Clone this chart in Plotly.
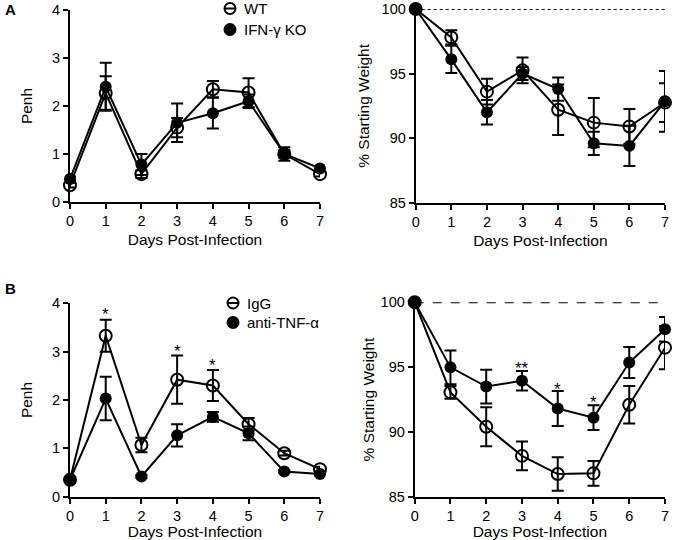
import plotly.graph_objects as go

W, H = 673, 540

days = [0, 1, 2, 3, 4, 5, 6, 7]
day_ticks = [0, 1, 2, 3, 4, 5, 6, 7]
penh_ticks = [0, 1, 2, 3, 4]
weight_ticks = [85, 90, 95, 100]

# Panel A: WT vs IFN-γ KO
wt_penh = [0.35, 2.27, 0.58, 1.55, 2.35, 2.28, 1.00, 0.58]
wt_penh_err = [0.05, 0.35, 0.08, 0.20, 0.17, 0.30, 0.08, 0.05]
ko_penh = [0.48, 2.40, 0.78, 1.65, 1.85, 2.10, 1.00, 0.70]
ko_penh_err = [0.05, 0.50, 0.22, 0.40, 0.32, 0.14, 0.14, 0.05]

wt_weight = [100, 97.8, 93.6, 95.25, 92.2, 91.2, 90.9, 92.75]
wt_weight_err = [0, 0.55, 1.0, 1.0, 1.95, 1.9, 1.35, 1.5]
ko_weight = [100, 96.1, 92.0, 95.0, 93.8, 89.6, 89.4, 92.85]
ko_weight_err = [0, 1.05, 0.95, 0.5, 0.9, 0.9, 1.55, 2.35]

# Panel B: IgG vs anti-TNF-α
igg_penh = [0.35, 3.33, 1.07, 2.42, 2.30, 1.50, 0.90, 0.57]
igg_penh_err = [0.05, 0.33, 0.15, 0.50, 0.32, 0.13, 0.05, 0.05]
tnf_penh = [0.35, 2.03, 0.42, 1.27, 1.65, 1.31, 0.52, 0.47]
tnf_penh_err = [0.05, 0.45, 0.03, 0.23, 0.10, 0.14, 0.03, 0.03]

igg_weight = [100, 93.05, 90.4, 88.15, 86.75, 86.8, 92.1, 96.5]
igg_weight_err = [0, 0.5, 1.5, 1.1, 1.3, 0.95, 1.45, 1.67]
tnf_weight = [100, 94.98, 93.5, 93.95, 91.8, 91.1, 95.35, 97.92]
tnf_weight_err = [0, 1.3, 1.3, 0.75, 1.35, 0.95, 1.2, 0.95]

baseline_weight = 100

# significance marks
b_penh_sig_days = [1, 3, 4]
b_penh_sig_y = [3.86, 3.09, 2.79]
b_penh_sig_text = ["*", "*", "*"]
b_weight_sig_days = [3, 4, 5]
b_weight_sig_y = [95.2, 93.6, 92.6]
b_weight_sig_text = ["**", "*", "*"]

legend_a = ["WT", "IFN-γ KO"]
legend_b = ["IgG", "anti-TNF-α"]

FONT = "Liberation Sans, Arial, sans-serif"
BLACK = "black"


def px_x(p):
    return p / W


def px_y(p):
    return 1 - p / H


fig = go.Figure()


def add_series(xref, yref, y, err, filled):
    fig.add_trace(go.Scatter(
        x=days, y=y, xaxis=xref, yaxis=yref,
        mode="lines+markers",
        line=dict(color=BLACK, width=2),
        marker=dict(
            symbol="circle" if filled else "circle-open",
            size=12,
            color=BLACK,
            line=dict(color=BLACK, width=2 if not filled else 0),
        ),
        error_y=dict(type="data", array=err, visible=True,
                     color=BLACK, thickness=2, width=6),
        cliponaxis=False,
        showlegend=False,
        hoverinfo="skip",
    ))


add_series("x", "y", wt_penh, wt_penh_err, False)
add_series("x", "y", ko_penh, ko_penh_err, True)
add_series("x2", "y2", wt_weight, wt_weight_err, False)
add_series("x2", "y2", ko_weight, ko_weight_err, True)
add_series("x3", "y3", igg_penh, igg_penh_err, False)
add_series("x3", "y3", tnf_penh, tnf_penh_err, True)
add_series("x4", "y4", igg_weight, igg_weight_err, False)
add_series("x4", "y4", tnf_weight, tnf_weight_err, True)

TICK_FS = 14.5
TITLE_FS = 15.5

axis_common = dict(
    showline=True, linecolor=BLACK, linewidth=2,
    ticks="outside", ticklen=5, tickwidth=2, tickcolor=BLACK,
    showgrid=False, zeroline=False, automargin=False,
    tickfont=dict(family=FONT, size=TICK_FS, color=BLACK),
    mirror=False,
)

panels = {
    "1": dict(xd=(70, 320), yd=(202, 10), yr=(0, 4), yt=penh_ticks, ytitle="Penh", xstand=6, ystand=16),
    "2": dict(xd=(415.7, 665), yd=(202.7, 9), yr=(85, 100), yt=weight_ticks, ytitle="% Starting Weight", xstand=6, ystand=8),
    "3": dict(xd=(70, 320), yd=(496.7, 303.3), yr=(0, 4), yt=penh_ticks, ytitle="Penh", xstand=1, ystand=16),
    "4": dict(xd=(414.7, 665), yd=(496.7, 302.3), yr=(85, 100), yt=weight_ticks, ytitle="% Starting Weight", xstand=1, ystand=2),
}

layout = dict(
    width=W, height=H,
    margin=dict(l=0, r=0, t=0, b=0),
    paper_bgcolor="white", plot_bgcolor="white",
    font=dict(family=FONT, color=BLACK),
    showlegend=False,
)

for k, p in panels.items():
    xname = "xaxis" if k == "1" else f"xaxis{k}"
    yname = "yaxis" if k == "1" else f"yaxis{k}"
    yid = "y" if k == "1" else f"y{k}"
    xid = "x" if k == "1" else f"x{k}"
    layout[xname] = dict(
        axis_common,
        domain=[px_x(p["xd"][0]), px_x(p["xd"][1])],
        range=[0, 7], tickvals=day_ticks, anchor=yid,
        title=dict(text="Days Post-Infection", standoff=p["xstand"],
                   font=dict(family=FONT, size=TITLE_FS, color=BLACK)),
    )
    layout[yname] = dict(
        axis_common,
        domain=[px_y(p["yd"][0]), px_y(p["yd"][1])],
        range=list(p["yr"]), tickvals=p["yt"], anchor=xid,
        title=dict(text=p["ytitle"], standoff=p["ystand"],
                   font=dict(family=FONT, size=TITLE_FS, color=BLACK)),
    )

fig.update_layout(**layout)

# baseline 100% lines
fig.add_shape(type="line", xref="x2", yref="y2", x0=days[0], x1=days[-1],
              y0=baseline_weight, y1=baseline_weight,
              line=dict(color=BLACK, width=2, dash="dot"), layer="below")
fig.add_shape(type="line", xref="x4", yref="y4", x0=days[0], x1=days[-1],
              y0=baseline_weight, y1=baseline_weight,
              line=dict(color=BLACK, width=2, dash="dash"), layer="below")

# significance asterisks
for d, yv, t in zip(b_penh_sig_days, b_penh_sig_y, b_penh_sig_text):
    fig.add_annotation(x=d, y=yv, xref="x3", yref="y3", text=t, showarrow=False,
                       yshift=-4, font=dict(family=FONT, size=17, color=BLACK))
for d, yv, t in zip(b_weight_sig_days, b_weight_sig_y, b_weight_sig_text):
    fig.add_annotation(x=d, y=yv, xref="x4", yref="y4", text=t, showarrow=False,
                       yshift=-4, font=dict(family=FONT, size=17, color=BLACK))

# panel letters
fig.add_annotation(x=px_x(3), y=px_y(9), xref="paper", yref="paper", text="<b>A</b>",
                   showarrow=False, xanchor="left", yanchor="middle",
                   font=dict(family=FONT, size=15, color=BLACK))
fig.add_annotation(x=px_x(3), y=px_y(288), xref="paper", yref="paper", text="<b>B</b>",
                   showarrow=False, xanchor="left", yanchor="middle",
                   font=dict(family=FONT, size=15, color=BLACK))


# manual legends
def legend_entry(cx, cy, label, filled):
    xa, ya = px_x(cx), px_y(cy)
    fig.add_shape(type="circle", xref="paper", yref="paper",
                  xsizemode="pixel", ysizemode="pixel", xanchor=xa, yanchor=ya,
                  x0=-5.5, x1=5.5, y0=-5.5, y1=5.5,
                  fillcolor=BLACK if filled else "rgba(0,0,0,0)",
                  line=dict(color=BLACK, width=2))
    if not filled:
        fig.add_shape(type="line", xref="paper", yref="paper",
                      xsizemode="pixel", ysizemode="pixel", xanchor=xa, yanchor=ya,
                      x0=-5.5, x1=5.5, y0=0, y1=0,
                      line=dict(color=BLACK, width=2))
    fig.add_annotation(x=px_x(cx + 12), y=ya, xref="paper", yref="paper", text=label,
                       showarrow=False, xanchor="left", yanchor="middle",
                       font=dict(family=FONT, size=15, color=BLACK))


legend_entry(230, 8.5, legend_a[0], False)
legend_entry(230, 29.5, legend_a[1], True)
legend_entry(233, 303, legend_b[0], False)
legend_entry(233, 322.5, legend_b[1], True)

fig.write_html(
    "out.html",
    config={"displayModeBar": False, "staticPlot": True},
    post_script="document.body.style.margin='0';document.body.style.overflow='hidden';",
)
